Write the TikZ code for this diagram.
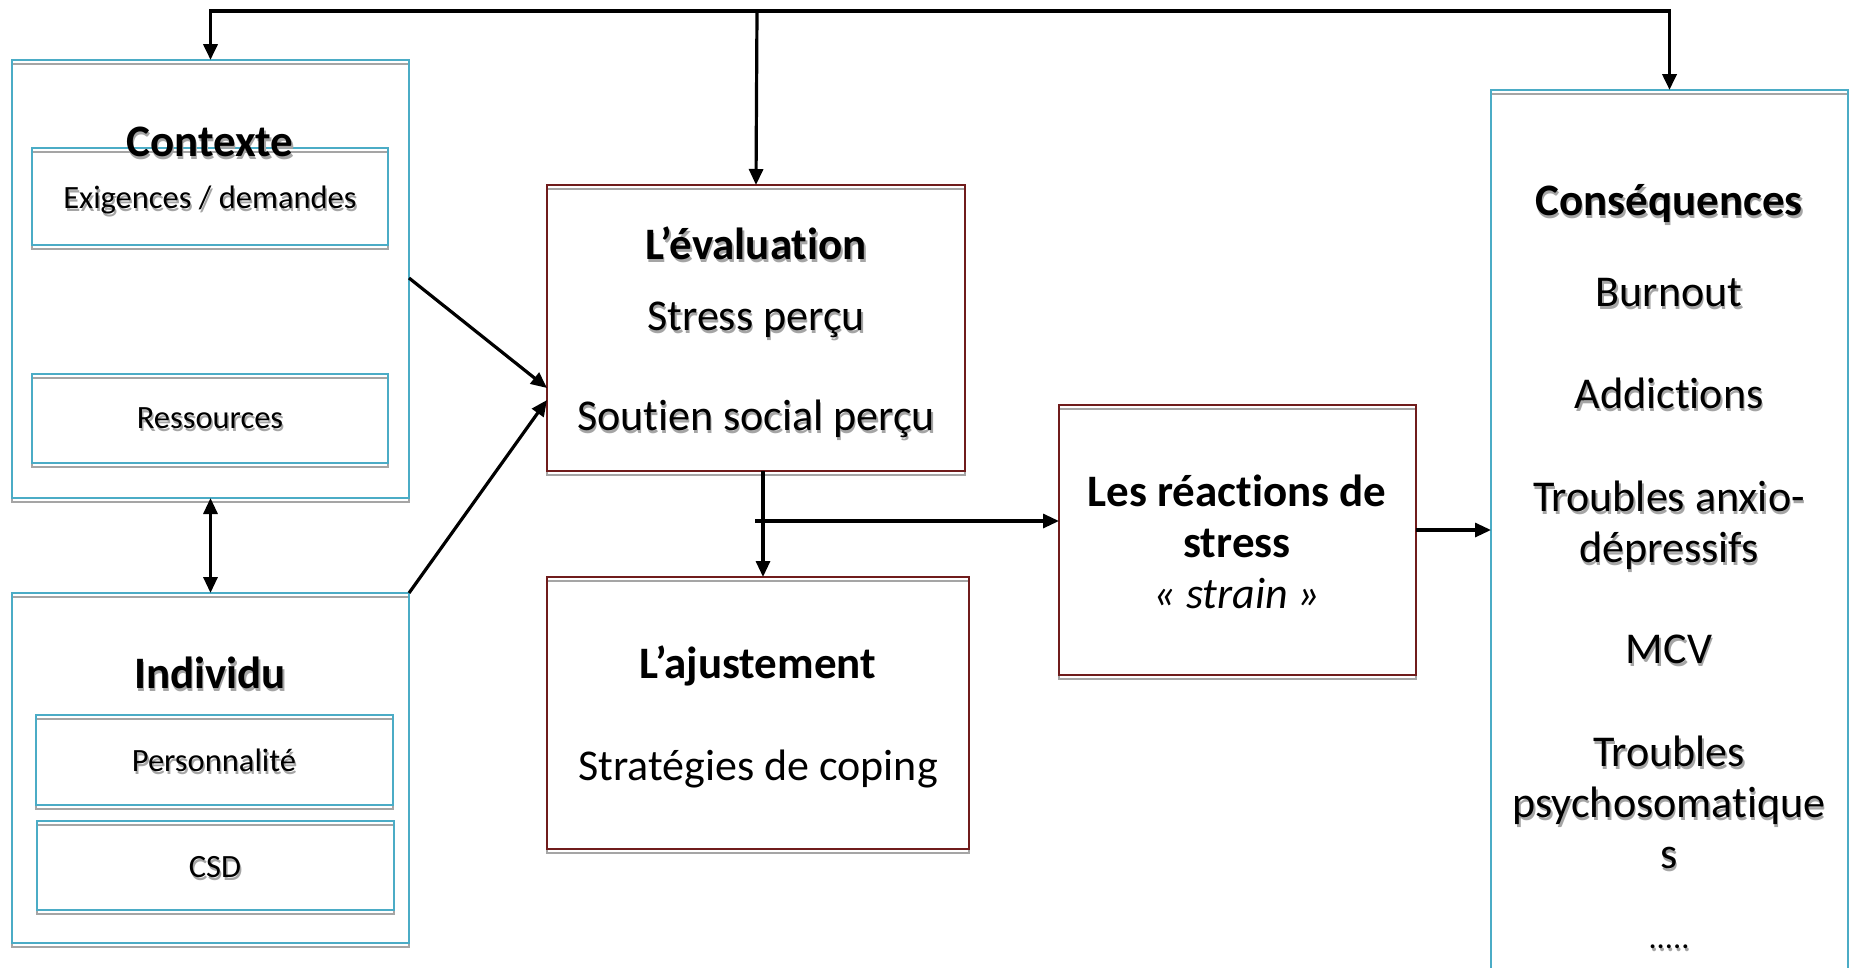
\documentclass[tikz,border=0pt]{standalone}
\usepackage{fontspec}
\setmainfont[RawFeature=-liga]{Carlito}
\usetikzlibrary{arrows.meta}
\definecolor{cyanb}{RGB}{75,172,198}
\definecolor{redb}{RGB}{112,28,28}
\definecolor{shdg}{RGB}{165,165,165}
\newcommand{\sh}[1]{\leavevmode\rlap{\hspace{1.5pt}\raisebox{-3pt}{\textcolor{shdg}{#1}}}#1}
\begin{document}
\begin{tikzpicture}[x=1pt,y=-1pt,
  cbox/.style={draw=cyanb, line width=2pt, inner sep=0pt, outer sep=0pt,
    preaction={draw=shdg, line width=2pt, transform canvas={yshift=-4pt}}},
  rbox/.style={draw=redb, line width=2pt, inner sep=0pt, outer sep=0pt,
    preaction={draw=shdg, line width=2.5pt, transform canvas={yshift=-4pt}}},
  tx/.style={anchor=base, inner sep=0pt, font=\fontsize{44}{52}\selectfont},
  tb/.style={anchor=base, inner sep=0pt, font=\fontsize{45}{52}\selectfont\bfseries},
  ts/.style={anchor=base, inner sep=0pt, font=\fontsize{32.5}{38}\selectfont},
  arr/.style={line width=3.2pt, -{Triangle[length=16pt,width=14pt]}},
  darr/.style={line width=3.2pt, {Triangle[length=16pt,width=14pt]}-{Triangle[length=16pt,width=14pt]}}
]
\useasboundingbox (0,0) rectangle (1855,967);

% boxes
\node[cbox, minimum width=397pt, minimum height=438pt] (ctx) at (210.5,279) {};
\node[cbox, minimum width=356pt, minimum height=97pt] (exi) at (210,196.5) {};
\node[cbox, minimum width=356pt, minimum height=89pt] (res) at (210,418.5) {};
\node[cbox, minimum width=397pt, minimum height=350pt] (ind) at (210.5,768) {};
\node[cbox, minimum width=357pt, minimum height=90pt] (per) at (214.5,760) {};
\node[cbox, minimum width=357pt, minimum height=89pt] (csd) at (215.5,865.5) {};
\node[rbox, minimum width=418pt, minimum height=286pt] (eval) at (756,328) {};
\node[rbox, minimum width=422pt, minimum height=272pt] (adj) at (758,713) {};
\node[rbox, minimum width=357pt, minimum height=270pt] (react) at (1237.5,540) {};
\node[cbox, minimum width=357pt, minimum height=910pt] (cons) at (1669.5,545) {};

% texts
\node[tb] (tctx) at (210,156) {\sh{Contexte}};
\node[ts] (texi) at (210,208) {\sh{Exigences / demandes}};
\node[ts] (tres) at (210,428) {\sh{Ressources}};
\node[tb] (tind) at (210,688) {\sh{Individu}};
\node[ts] (tper) at (214,771) {\sh{Personnalité}};
\node[ts] (tcsd) at (215,877) {\sh{CSD}};

\node[tb] (tev) at (756,259) {\sh{L’évaluation}};
\node[tx] (tsp) at (756,330) {\sh{Stress perçu}};
\node[tx] (tss) at (756,430) {\sh{Soutien social perçu}};

\node[tb] (tadj) at (758,678) {L’ajustement};
\node[tx] (tstr) at (758,780) {Stratégies de coping};

\node[tb] (tr1) at (1237,506) {Les réactions de};
\node[tb] (tr2) at (1237,557) {stress};
\node[tx] (tr3) at (1237,608) {\itshape « strain »};

\node[tb] (tc0) at (1669,215) {\sh{Conséquences}};
\node[tx] (tc1) at (1669,306) {\sh{Burnout}};
\node[tx] (tc2) at (1669,408) {\sh{Addictions}};
\node[tx] (tc3) at (1669,511) {\sh{Troubles anxio-}};
\node[tx] (tc4) at (1669,562) {\sh{dépressifs}};
\node[tx] (tc5) at (1669,663) {\sh{MCV}};
\node[tx] (tc6) at (1669,766) {\sh{Troubles}};
\node[tx] (tc7) at (1669,817) {\sh{psychosomatique}};
\node[tx] (tc8) at (1669,868) {\sh{s}};
\node[ts] (tc9) at (1669,948) {\sh{.....}};

% connectors
\coordinate (top) at (757,11);
\draw[arr, line width=3.8pt] (top) -| (ctx.north);
\draw[arr, line width=3.8pt] (top) -| (cons.north);
\draw[arr] (top) -- (eval.north);
\draw[darr] (ctx.south) -- (ind.north);
\draw[arr] (ctx.east |- 0,278) -- (eval.west |- 0,388);
\draw[arr] (ind.north east) -- (eval.west |- 0,400);
\draw[arr] ([xshift=7pt]eval.south) -- ([xshift=7pt]eval.south |- adj.north);
\coordinate (j) at (755,521);
\draw[arr] (j) -- (j -| react.west);
\draw[arr] (react.east |- 0,530) -- (cons.west |- 0,530);
\end{tikzpicture}
\end{document}
